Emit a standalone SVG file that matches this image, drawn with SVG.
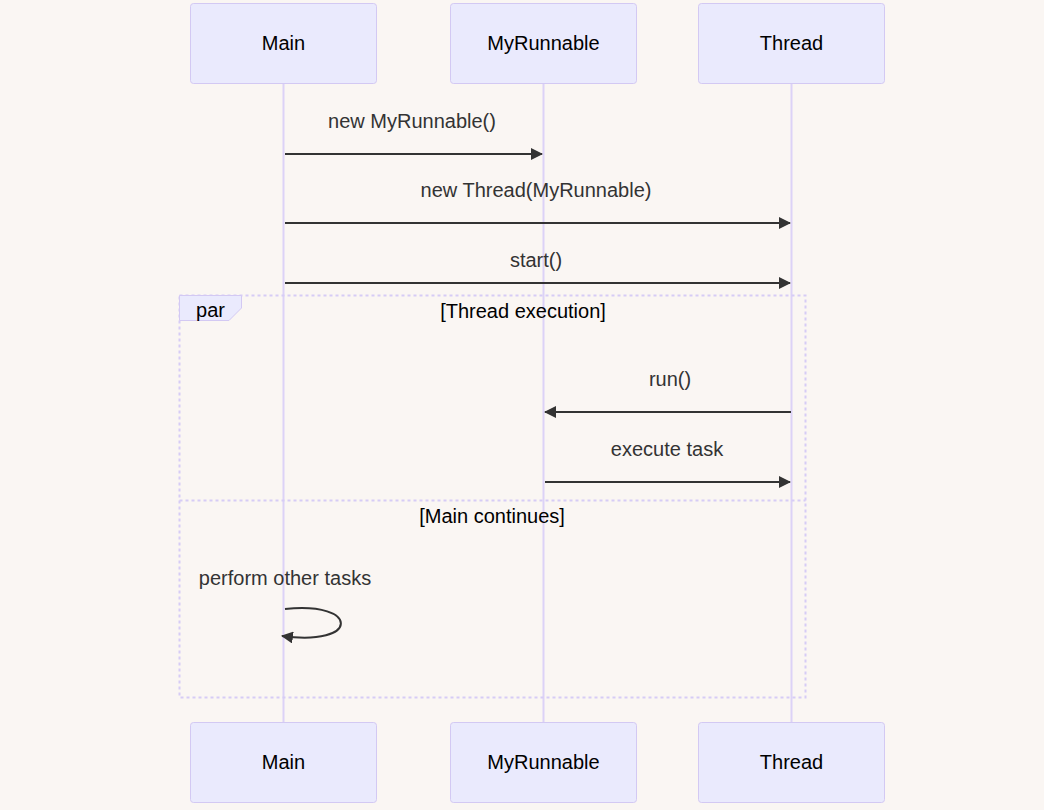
<svg xmlns="http://www.w3.org/2000/svg" width="1044" height="810" viewBox="0 0 1044 810">
<defs>
<style>
.bg{fill:#faf6f3}
.actor{fill:#eaeafd;stroke:#d3c9f3;stroke-width:1}
.atext{font-family:"Liberation Sans",Arial,sans-serif;font-size:20px;fill:#000;text-anchor:middle;dominant-baseline:central}
.life{stroke:#dcd2f7;stroke-width:2}
.msg{stroke:#333;stroke-width:2;fill:none}
.mtext{font-family:"Liberation Sans",Arial,sans-serif;font-size:20px;fill:#333;text-anchor:middle;dominant-baseline:central}
.ltext{font-family:"Liberation Sans",Arial,sans-serif;font-size:20px;fill:#000;text-anchor:middle;dominant-baseline:central}
.loop{stroke:#d6ccf6;stroke-width:2;stroke-dasharray:3 3;fill:none}
.lbox{fill:#eaeafd;stroke:#d3c9f3;stroke-width:1}
</style>
<marker id="arr" viewBox="0 0 12 12" refX="11" refY="6" markerWidth="12" markerHeight="12" markerUnits="userSpaceOnUse" orient="auto">
<path d="M0,0 L12,6 L0,12 z" fill="#333"/>
</marker>
</defs>
<rect class="bg" x="0" y="0" width="1044" height="810"/>
<g id="lifelines">
<line class="life" x1="283.5" y1="84" x2="283.5" y2="722"/>
<line class="life" x1="543.5" y1="84" x2="543.5" y2="722"/>
<line class="life" x1="791.5" y1="84" x2="791.5" y2="722"/>
</g>
<g id="actor-main-top"><rect class="actor" x="190.5" y="3.5" width="186" height="80" rx="3"/><text class="atext" x="283.5" y="43">Main</text></g>
<g id="actor-myrunnable-top"><rect class="actor" x="450.5" y="3.5" width="186" height="80" rx="3"/><text class="atext" x="543.5" y="43">MyRunnable</text></g>
<g id="actor-thread-top"><rect class="actor" x="698.5" y="3.5" width="186" height="80" rx="3"/><text class="atext" x="791.5" y="43">Thread</text></g>
<g id="actor-main-bottom"><rect class="actor" x="190.5" y="722.5" width="186" height="80" rx="3"/><text class="atext" x="283.5" y="762">Main</text></g>
<g id="actor-myrunnable-bottom"><rect class="actor" x="450.5" y="722.5" width="186" height="80" rx="3"/><text class="atext" x="543.5" y="762">MyRunnable</text></g>
<g id="actor-thread-bottom"><rect class="actor" x="698.5" y="722.5" width="186" height="80" rx="3"/><text class="atext" x="791.5" y="762">Thread</text></g>
<g id="par-block">
<rect class="loop" x="179.5" y="295.5" width="626" height="402"/>
<line class="loop" x1="179.5" y1="500.5" x2="805.5" y2="500.5"/>
<path class="lbox" d="M179.5,295.5 L241.5,295.5 L241.5,308 L229,320.5 L179.5,320.5 Z"/>
<text class="ltext" x="210.5" y="309.5">par</text>
<text class="ltext" x="523" y="310.5">[Thread execution]</text>
<text class="ltext" x="492" y="515.5">[Main continues]</text>
</g>
<g id="connectors">
<text class="mtext" x="412" y="120.5">new MyRunnable()</text>
<line class="msg" x1="285" y1="154" x2="542" y2="154" marker-end="url(#arr)"/>
<text class="mtext" x="536" y="189.5">new Thread(MyRunnable)</text>
<line class="msg" x1="285" y1="223" x2="790" y2="223" marker-end="url(#arr)"/>
<text class="mtext" x="536" y="259.5">start()</text>
<line class="msg" x1="285" y1="283" x2="790" y2="283" marker-end="url(#arr)"/>
<text class="mtext" x="670" y="378.5">run()</text>
<line class="msg" x1="791" y1="412" x2="545" y2="412" marker-end="url(#arr)"/>
<text class="mtext" x="667" y="448.5">execute task</text>
<line class="msg" x1="545" y1="482" x2="790" y2="482" marker-end="url(#arr)"/>
<text class="mtext" x="285" y="577.5">perform other tasks</text>
<path class="msg" d="M285,609 C360,601 360,647 282,636" marker-end="url(#arr)"/>
</g>
</svg>
